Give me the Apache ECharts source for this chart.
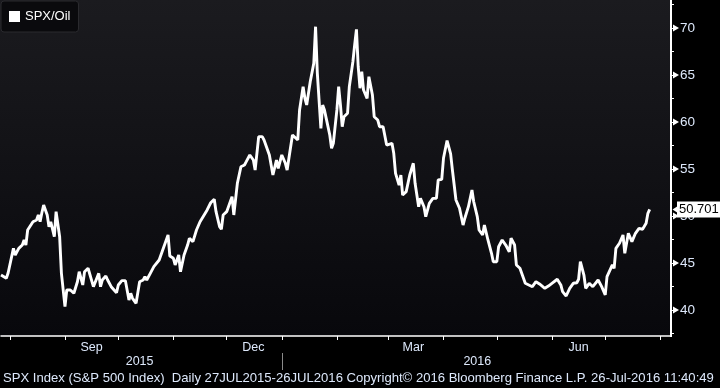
<!DOCTYPE html>
<html>
<head>
<meta charset="utf-8">
<script src="https://cdn.jsdelivr.net/npm/echarts@6/dist/echarts.min.js"></script>
<style>
html,body{margin:0;padding:0;background:#000;}
#c{width:720px;height:388px;}
</style>
</head>
<body>
<div id="c"></div>
<script>
// ---- data ----
const seriesName = 'SPX/Oil';
const dates = [
'2015-07-27','2015-07-28','2015-07-30','2015-07-31','2015-08-03','2015-08-04','2015-08-06','2015-08-08','2015-08-09','2015-08-10',
'2015-08-11','2015-08-12','2015-08-14','2015-08-16','2015-08-17','2015-08-18','2015-08-19','2015-08-20','2015-08-22','2015-08-23',
'2015-08-24','2015-08-26','2015-08-27','2015-08-29','2015-08-30','2015-09-01','2015-09-02','2015-09-04','2015-09-06','2015-09-08',
'2015-09-09','2015-09-11','2015-09-12','2015-09-14','2015-09-15','2015-09-17','2015-09-18','2015-09-20','2015-09-21','2015-09-22',
'2015-09-24','2015-09-25','2015-09-27','2015-09-28','2015-09-30','2015-10-01','2015-10-03','2015-10-05','2015-10-07','2015-10-08',
'2015-10-09','2015-10-11','2015-10-13','2015-10-15','2015-10-16','2015-10-17','2015-10-19','2015-10-21','2015-10-22','2015-10-24',
'2015-10-26','2015-10-28','2015-10-29','2015-10-30','2015-11-01','2015-11-02','2015-11-04','2015-11-05','2015-11-07','2015-11-09',
'2015-11-10','2015-11-12','2015-11-14','2015-11-16','2015-11-17','2015-11-20','2015-11-22','2015-11-24','2015-11-25','2015-11-27',
'2015-11-28','2015-11-29','2015-12-01','2015-12-02','2015-12-04','2015-12-05','2015-12-07','2015-12-09','2015-12-11','2015-12-12',
'2015-12-14','2015-12-16','2015-12-17','2015-12-19','2015-12-21','2015-12-22','2015-12-23','2015-12-25','2015-12-27','2015-12-29',
'2015-12-30','2016-01-01','2016-01-03','2016-01-04','2016-01-05','2016-01-07','2016-01-08','2016-01-10','2016-01-11','2016-01-13',
'2016-01-14','2016-01-15','2016-01-17','2016-01-19','2016-01-20','2016-01-21','2016-01-23','2016-01-24','2016-01-25','2016-01-26',
'2016-01-28','2016-01-29','2016-01-30','2016-02-01','2016-02-02','2016-02-03','2016-02-04','2016-02-05','2016-02-07','2016-02-08',
'2016-02-10','2016-02-11','2016-02-12','2016-02-13','2016-02-14','2016-02-15','2016-02-16','2016-02-18','2016-02-19','2016-02-21',
'2016-02-22','2016-02-24','2016-02-25','2016-02-26','2016-02-27','2016-02-29','2016-03-01','2016-03-03','2016-03-04','2016-03-05',
'2016-03-07','2016-03-08','2016-03-09','2016-03-11','2016-03-12','2016-03-13','2016-03-15','2016-03-16','2016-03-18','2016-03-19',
'2016-03-21','2016-03-22','2016-03-24','2016-03-26','2016-03-28','2016-03-29','2016-03-31','2016-04-01','2016-04-03','2016-04-05',
'2016-04-06','2016-04-07','2016-04-08','2016-04-10','2016-04-12','2016-04-13','2016-04-15','2016-04-17','2016-04-18','2016-04-20',
'2016-04-21','2016-04-23','2016-04-24','2016-04-26','2016-04-28','2016-04-29','2016-05-01','2016-05-02','2016-05-04','2016-05-06',
'2016-05-08','2016-05-09','2016-05-11','2016-05-12','2016-05-14','2016-05-15','2016-05-17','2016-05-19','2016-05-21','2016-05-23',
'2016-05-25','2016-05-26','2016-05-28','2016-05-30','2016-06-01','2016-06-02','2016-06-04','2016-06-06','2016-06-07','2016-06-09',
'2016-06-11','2016-06-13','2016-06-15','2016-06-16','2016-06-17','2016-06-19','2016-06-20','2016-06-22','2016-06-24','2016-06-25',
'2016-06-27','2016-06-29','2016-07-01','2016-07-02','2016-07-03','2016-07-05','2016-07-06','2016-07-07','2016-07-09','2016-07-11',
'2016-07-12','2016-07-14','2016-07-16','2016-07-17','2016-07-18','2016-07-20','2016-07-22','2016-07-24','2016-07-25','2016-07-26'
];
const values = [
43.72,43.62,43.37,43.94,46.56,45.85,46.56,46.91,47.45,46.91,
48.51,48.33,49.39,49.57,50.11,49.39,50.35,51.17,50.11,48.86,
49.39,47.80,50.46,47.80,43.90,40.35,42.13,42.13,41.78,43.01,
44.07,42.66,44.07,44.44,44.26,42.48,42.66,43.90,42.48,43.19,
43.62,43.19,42.48,42.66,41.84,42.66,43.12,43.12,41.06,41.78,
41.24,40.71,43.01,43.19,43.54,43.19,43.90,44.61,44.79,45.32,
46.38,47.45,47.98,45.74,45.50,44.79,45.85,44.07,45.85,46.91,
47.63,47.27,48.51,49.39,49.22,50.64,51.41,51.78,50.46,48.86,
48.59,50.11,50.46,50.46,52.05,50.11,53.48,55.24,55.43,55.78,
56.49,55.96,54.89,58.44,58.44,58.09,58.27,56.49,54.36,55.96,
55.07,56.49,55.61,54.89,56.14,58.62,58.44,58.09,61.28,63.76,
62.52,61.81,64.29,66.24,70.14,65.18,59.33,61.81,61.28,60.39,
58.62,57.20,57.73,61.28,63.76,61.81,59.50,60.56,60.93,63.76,
66.41,68.19,69.86,65.88,63.59,65.35,63.40,62.52,64.82,62.87,
60.56,60.21,59.50,59.68,59.50,57.55,57.73,57.73,56.67,54.54,
53.30,54.36,52.23,52.59,52.59,54.36,55.61,53.48,50.99,51.88,
50.99,49.93,51.35,51.88,51.88,53.83,53.90,56.17,58.03,56.60,
54.89,54.89,51.70,50.82,49.04,49.76,50.99,52.77,51.52,49.93,
48.51,47.98,49.04,47.45,46.03,45.14,45.14,46.73,47.45,46.91,
46.20,47.63,46.91,44.79,44.44,44.26,42.84,42.66,42.48,43.01,
42.77,42.84,42.31,42.55,42.84,42.84,43.27,42.66,41.95,41.49,
42.31,42.84,42.90,43.27,45.14,43.72,42.31,42.84,42.48,42.48,
43.19,42.48,41.60,43.54,43.37,44.79,44.44,46.56,47.10,47.98,
46.03,48.16,47.27,47.10,48.16,48.69,48.59,49.22,50.29,50.701
];
const axisStart = '2015-07-27';
const axisEnd = '2016-08-07';
const majorTicks = [40, 45, 50, 55, 60, 65, 70];
const monthLabels = {'2015-09-16':'Sep','2015-12-16':'Dec','2016-03-15':'Mar','2016-06-16':'Jun'};
const yearLabels = {'2015-10-13':'2015','2016-04-20':'2016'};
const yearSeparator = '2016-01-01';
const lastValueText = '50.701';
const footerText = 'SPX Index (S&P 500 Index)  Daily 27JUL2015-26JUL2016 Copyright\u00A9 2016 Bloomberg Finance L.P. 26-Jul-2016 11:40:49';

// ---- build calendar-day categories ----
function fmt(d){
  const m = d.getUTCMonth()+1, day = d.getUTCDate();
  return d.getUTCFullYear()+'-'+(m<10?'0':'')+m+'-'+(day<10?'0':'')+day;
}
const cats = [];
for (let d = new Date(axisStart+'T00:00:00Z'); fmt(d) <= axisEnd; d.setUTCDate(d.getUTCDate()+1)) cats.push(fmt(d));
const idx = {}; cats.forEach((c,i)=>idx[c]=i);
const lineData = dates.map((d,i)=>[idx[d], values[i]]);
const lastI = dates.length-1;
const endCat = cats.length-1;

const FONT = "'Liberation Sans', Arial, sans-serif";
const LABEL = '#dde8fb';

const chart = echarts.init(document.getElementById('c'), null, {renderer:'canvas'});
chart.setOption({
  backgroundColor: '#000',
  animation: false,
  graphic: [
    {type:'rect', z:-10, silent:true, shape:{x:0,y:0,width:671,height:336},
     style:{fill:new echarts.graphic.LinearGradient(0,0,0,1,[{offset:0,color:'#1b1b1f'},{offset:1,color:'#08080c'}])}},
    {type:'line', z:50, silent:true, shape:{x1:671,y1:0,x2:671,y2:337}, style:{stroke:'#ffffff',lineWidth:2}},
    {type:'text', z:50, silent:true, left:3, top:372, style:{text:footerText, fill:LABEL, font:'13.1px '+FONT}}
  ],
  legend: {
    data:[seriesName], left:1, top:1, icon:'rect', itemWidth:11, itemHeight:11,
    padding:[9,8,9,8], backgroundColor:'#0a0a0d', borderColor:'#2a2a2e', borderWidth:1, borderRadius:3,
    textStyle:{color:'#ffffff', fontSize:13, fontFamily:FONT}, itemGap:0, selectedMode:false
  },
  grid: {left:1, top:4.5, width:670, height:329, containLabel:false},
  xAxis: [
    {type:'category', data:cats, boundaryGap:false, offset:2.5,
     axisLine:{show:true, lineStyle:{color:'#ffffff', width:1.5}},
     axisTick:{show:true, length:4, interval:(i,v)=>v.slice(8)==='01', lineStyle:{color:'#ffffff', width:1}},
     axisLabel:{show:true, interval:(i,v)=>!!monthLabels[v], formatter:v=>monthLabels[v]||'', color:LABEL, fontSize:12.5, fontFamily:FONT, margin:5},
     splitLine:{show:false}},
    {type:'category', data:cats, boundaryGap:false, offset:19.5, position:'bottom',
     axisLine:{show:false},
     axisTick:{show:true, length:17, interval:(i,v)=>v===yearSeparator, lineStyle:{color:'#8a8a8a', width:1}},
     axisLabel:{show:true, interval:(i,v)=>!!yearLabels[v], formatter:v=>yearLabels[v]||'', color:LABEL, fontSize:12.5, fontFamily:FONT, margin:2},
     splitLine:{show:false}}
  ],
  yAxis: {
    type:'value', position:'right', min:37.5, max:72.5, interval:2.5, scale:true,
    axisLine:{show:false},
    axisTick:{show:true, length:3, lineStyle:{color:'#ffffff', width:1}},
    splitLine:{show:false},
    axisLabel:{margin:9, fontFamily:FONT, fontSize:13.5, color:LABEL,
      formatter:v=>(majorTicks.indexOf(v) >= 0 ? String(v) : '')}
  },
  series: [{
    name:seriesName, type:'line', data:lineData, showSymbol:false, symbol:'none',
    lineStyle:{color:'#ffffff', width:2.9}, itemStyle:{color:'#ffffff'},
    clip:false,
    markLine:{silent:true, symbol:['none','none'], animation:false,
      lineStyle:{color:'rgba(0,0,0,0)', width:0.1, opacity:1},
      label:{show:true, position:'end', distance:6, formatter:lastValueText, color:'#000', backgroundColor:'#fff',
             padding:[2,2,1,2], fontSize:13, fontFamily:FONT, opacity:1},
      data:[[{coord:[lineData[lastI][0], values[lastI]]},{coord:[endCat, values[lastI]]}]]},
    markPoint:{silent:true, animation:false, label:{show:false}, itemStyle:{color:'#ffffff'},
      data: majorTicks.map(v=>({coord:[endCat, v], symbol:'triangle', symbolRotate:-90, symbolSize:[7,6], symbolOffset:[5,0]}))
        .concat([{coord:[endCat, values[lastI]], symbol:'triangle', symbolRotate:90, symbolSize:[9,7], symbolOffset:[5,0]}])}
  }]
});
</script>
</body>
</html>
